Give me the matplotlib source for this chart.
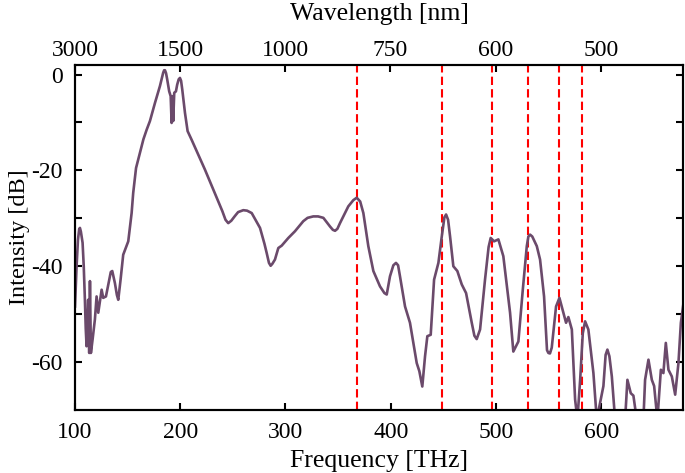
import matplotlib
matplotlib.use('Agg')
import matplotlib.pyplot as plt
import numpy as np

# spectrum
freq_thz = [100.0, 100.8, 101.5, 102.8, 104.0, 104.7, 105.6, 107.2, 108.3, 109.4,
            110.2, 111.0, 112.5, 113.5, 114.2, 115.1, 116.7, 118.9, 120.5, 122.1,
            125.3, 126.8, 129.4, 132.5, 134.0, 135.4, 137.9, 139.8, 141.1, 143.3,
            145.8, 150.6, 153.8, 155.3, 158.0, 161.7, 165.0, 168.1, 171.2, 176.0,
            180.7, 183.8, 184.7, 185.5, 186.5, 187.6, 189.5, 190.9, 191.8, 192.8,
            193.3, 194.3, 195.9, 197.1, 198.5, 199.7, 200.8, 201.9, 204.5, 207.0,
            210.8, 223.4, 231.4, 240.0, 243.0, 245.6, 248.5, 252.0, 255.0, 259.9,
            263.5, 267.9, 275.8, 280.0, 282.1, 284.3, 285.9, 287.5, 290.0, 293.2,
            296.4, 302.7, 309.0, 316.9, 321.0, 326.4, 331.0, 336.0, 342.3, 345.0,
            347.1, 349.3, 351.8, 359.7, 364.5, 367.7, 371.0, 374.0, 378.7, 383.5,
            389.8, 394.0, 396.2, 399.3, 402.5, 405.0, 407.0, 408.8, 413.6, 418.3,
            424.7, 427.2, 430.0, 432.6, 434.8, 438.0, 441.2, 445.3, 448.5, 451.0,
            452.6, 454.5, 456.4, 459.5, 463.3, 467.5, 471.6, 477.0, 479.5, 481.7,
            484.9, 489.6, 493.0, 495.0, 498.2, 502.3, 507.0, 513.4, 516.5, 521.3,
            525.5, 529.3, 530.8, 532.4, 534.5, 538.8, 541.9, 545.7, 548.5, 549.8,
            551.3, 553.0, 557.1, 560.3, 564.1, 566.6, 568.8, 572.1, 575.2, 577.4,
            580.0, 582.5, 584.7, 587.8, 592.6, 595.8, 602.1, 604.2, 605.9, 607.8,
            610.1, 613.2, 622.7, 624.9, 628.1, 630.6, 633.8, 640.1, 641.7, 644.9,
            648.1, 650.3, 653.4, 656.7, 659.1, 661.4, 663.9, 667.1, 670.3, 673.4,
            675.7, 678.0]
intensity_db = [-48.4, -44.0, -40.0, -34.5, -32.2, -32.0, -32.8, -35.1, -40.0, -47.0,
                -53.0, -56.7, -47.0, -58.1, -43.1, -58.1, -55.3, -51.1, -46.3, -49.7,
                -44.9, -46.6, -46.3, -42.8, -41.2, -41.0, -43.5, -46.0, -47.0, -42.8,
                -37.6, -34.8, -28.9, -24.7, -19.5, -16.3, -13.5, -11.5, -9.7, -5.9,
                -2.4, 0.4, 0.9, 0.9, 0.3, -1.0, -3.5, -4.5, -10.1, -4.5,
                -9.7, -3.8, -3.5, -2.1, -1.0, -0.7, -1.3, -3.1, -8.0, -11.8,
                -13.6, -19.8, -24.0, -28.5, -30.3, -31.0, -30.5, -29.5, -28.7, -28.3,
                -28.4, -28.9, -32.0, -35.3, -37.2, -39.3, -39.9, -39.5, -38.6, -36.2,
                -35.7, -34.1, -32.7, -30.6, -29.9, -29.6, -29.6, -29.9, -31.7, -32.4,
                -32.6, -32.2, -31.0, -27.5, -26.2, -25.7, -26.5, -28.9, -35.8, -41.0,
                -44.2, -45.6, -45.9, -42.1, -39.8, -39.3, -39.8, -42.1, -48.4, -51.8,
                -60.2, -61.9, -65.1, -58.8, -54.6, -54.3, -42.8, -39.3, -33.8, -29.8,
                -29.2, -30.3, -33.8, -40.0, -41.0, -43.8, -45.6, -51.8, -54.5, -55.2,
                -53.2, -42.8, -36.0, -34.1, -34.8, -34.4, -37.9, -49.7, -57.8, -55.7,
                -44.9, -35.8, -33.8, -33.4, -33.8, -35.8, -38.6, -46.3, -57.5, -58.1,
                -58.2, -57.0, -48.4, -46.6, -49.7, -51.8, -50.6, -53.2, -67.8, -72.0,
                -63.7, -54.0, -51.5, -53.2, -62.3, -72.0, -65.0, -58.5, -57.4, -58.8,
                -63.0, -72.0, -72.0, -63.7, -66.5, -67.0, -72.0, -72.0, -63.7, -59.5,
                -63.7, -65.0, -72.0, -61.6, -62.3, -56.0, -61.6, -63.0, -66.8, -60.2,
                -51.8, -48.0]

marker_thz = [368, 449, 496, 530, 560, 582]
wavelength_ticks = [3000, 1500, 1000, 750, 600, 500]
C_NM_THZ = 299792.458

plt.rcParams['font.family'] = ['Liberation Serif', 'DejaVu Serif']
plt.rcParams['font.size'] = 17
plt.rcParams['axes.unicode_minus'] = False

fig = plt.figure(figsize=(6.85, 4.73), dpi=100)
ax = fig.add_axes([0.1095, 0.1332, 0.888, 0.7294])

for f in marker_thz:
    ax.axvline(f, color='red', lw=1.5, ls=(0, (4, 2)), zorder=1)
ax.plot(freq_thz, intensity_db, color='#6b4a6b', lw=1.9, zorder=2,
        solid_joinstyle='round')

ax.set_xlim(100, 678)
ax.set_ylim(-70, 2)
ax.set_xticks([100, 200, 300, 400, 500, 600])
ax.set_yticks([0, -20, -40, -60])
ax.set_yticks([-10, -30, -50], minor=True)
ax.tick_params(which='both', direction='in', width=1.5, length=5, right=True, top=False)
ax.tick_params(axis='x', pad=9)
ax.tick_params(axis='y', pad=9)
ax.set_xlabel('Frequency [THz]', fontsize=18.5, labelpad=5)
ax.set_ylabel('Intensity [dB]', fontsize=17.5, labelpad=1)
for s in ax.spines.values():
    s.set_linewidth(1.5)

top = ax.twiny()
top.set_xlim(ax.get_xlim())
top.set_xticks([C_NM_THZ / w for w in wavelength_ticks])
top.set_xticklabels([str(w) for w in wavelength_ticks])
top.tick_params(direction='in', width=1.5, length=5, pad=3)
top.set_xlabel('Wavelength [nm]', fontsize=18.5, labelpad=14)
for s in top.spines.values():
    s.set_linewidth(1.5)

fig.savefig('out.png', dpi=100)
